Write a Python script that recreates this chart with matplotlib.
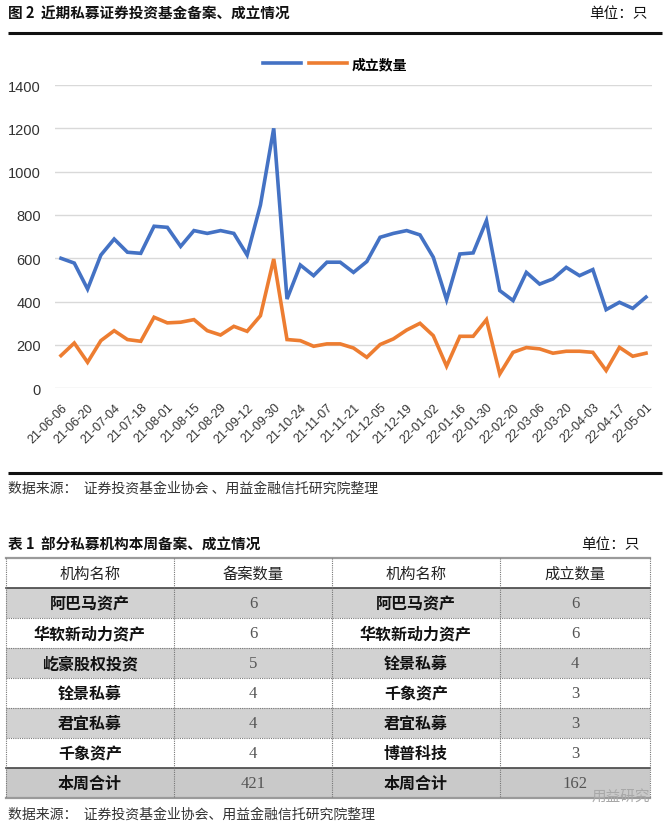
import matplotlib
matplotlib.use("Agg")
import matplotlib.pyplot as plt
from matplotlib.lines import Line2D
from matplotlib.patches import Rectangle

plt.rcParams['font.family'] = ['Noto Sans CJK SC', 'DejaVu Sans']

# weekly filings / establishments of private securities funds
tick_labels = ["21-06-06", "21-06-20", "21-07-04", "21-07-18", "21-08-01", "21-08-15",
               "21-08-29", "21-09-12", "21-09-30", "21-10-24", "21-11-07", "21-11-21",
               "21-12-05", "21-12-19", "22-01-02", "22-01-16", "22-01-30", "22-02-20",
               "22-03-06", "22-03-20", "22-04-03", "22-04-17", "22-05-01"]
filed = [600, 578, 458, 615, 689, 628, 623, 748, 743, 655, 728, 715, 728, 715, 615,
         846, 1200, 412, 569, 520, 582, 582, 535, 585, 697, 715, 728, 708, 605, 409,
         620, 625, 774, 451, 405, 535, 481, 505, 558, 520, 548, 363, 397, 369, 421]
established = [151, 209, 120, 220, 266, 225, 217, 328, 302, 305, 317, 266, 246, 286, 263,
               335, 597, 225, 220, 194, 205, 205, 186, 143, 202, 228, 269, 300, 243, 102,
               240, 240, 317, 66, 166, 188, 182, 162, 171, 171, 166, 82, 189, 148, 162]
y_ticks = [0, 200, 400, 600, 800, 1000, 1200, 1400]

# table 1
header = ["机构名称", "备案数量", "机构名称", "成立数量"]
names_filed = ["阿巴马资产", "华软新动力资产", "屹豪股权投资", "铨景私募", "君宜私募", "千象资产", "本周合计"]
counts_filed = [6, 6, 5, 4, 4, 4, 421]
names_est = ["阿巴马资产", "华软新动力资产", "铨景私募", "千象资产", "君宜私募", "博普科技", "本周合计"]
counts_est = [6, 6, 4, 3, 3, 3, 162]

W, H = 670, 828
fig = plt.figure(figsize=(W / 100, H / 100), dpi=100)

# overlay in pixel coordinates for titles, rules and the table
ov = fig.add_axes([0, 0, 1, 1])
ov.set_xlim(0, W)
ov.set_ylim(H, 0)
ov.axis('off')

ov.text(8, 14, "图 2  近期私募证券投资基金备案、成立情况", fontsize=10.5, weight='bold',
        va='center', color='#111')
ov.text(648, 14, "单位：只", fontsize=10.5, ha='right', va='center', color='#111')
ov.plot([8, 662], [34, 34], color='#111', lw=2.2, solid_capstyle='butt')
ov.plot([8, 662], [474, 474], color='#111', lw=2.2, solid_capstyle='butt')
ov.text(8, 489, "数据来源：  证券投资基金业协会 、用益金融信托研究院整理", fontsize=10,
        va='center', color='#333')

ov.text(8, 545, "表 1  部分私募机构本周备案、成立情况", fontsize=10.5, weight='bold',
        va='center', color='#111')
ov.text(640, 545, "单位：只", fontsize=10.5, ha='right', va='center', color='#111')

col_x = [6, 174, 332, 500, 650]
top = 559
rh = 30
nrows = len(names_filed)
for i in range(nrows):
    y0 = top + rh * (i + 1)
    if i % 2 == 0:
        fc = '#c9c9c9' if i == nrows - 1 else '#d2d2d2'
        ov.add_patch(Rectangle((col_x[0], y0), col_x[-1] - col_x[0], rh, fc=fc, ec='none'))

for j, h in enumerate(header):
    ov.text((col_x[j] + col_x[j + 1]) / 2, top + rh / 2, h, ha='center', va='center',
            fontsize=11, color='#222')

num_font = ['Liberation Serif', 'DejaVu Serif']
for i in range(nrows):
    yc = top + rh * (i + 1) + rh / 2
    row = [names_filed[i], counts_filed[i], names_est[i], counts_est[i]]
    for j, v in enumerate(row):
        xc = (col_x[j] + col_x[j + 1]) / 2
        if j % 2 == 0:
            ov.text(xc, yc, v, ha='center', va='center', fontsize=11.5, weight='bold', color='#111')
        else:
            ov.text(xc, yc, str(v), ha='center', va='center', fontsize=12, color='#555',
                    family=num_font)

bottom = top + rh * (nrows + 1)
for k in range(nrows + 2):
    y = top + rh * k
    if k == 0 or k == nrows + 1:
        ov.plot([col_x[0], col_x[-1]], [y, y], color='#9a9a9a', lw=1.6)
    elif k == 1 or k == nrows:
        ov.plot([col_x[0], col_x[-1]], [y, y], color='#444', lw=1.2)
    else:
        ov.plot([col_x[0], col_x[-1]], [y, y], color='#777', lw=0.8, ls=(0, (1, 1)))
for x in col_x:
    ov.plot([x, x], [top, bottom], color='#777', lw=0.8, ls=(0, (1, 1)))

ov.text(8, 815, "数据来源：  证券投资基金业协会、用益金融信托研究院整理", fontsize=10,
        va='center', color='#333')
ov.text(650, 797, "用益研究", fontsize=10.5, ha='right', va='center', color='#a8a8a8')

# line chart
ax = fig.add_axes([55 / W, 1 - 389.3 / H, 597 / W, (389.3 - 86) / H])
x = list(range(len(filed)))
blue = '#4472C4'
orange = '#ED7D31'
ax.plot(x, filed, color=blue, lw=2.6, solid_joinstyle='miter')
ax.plot(x, established, color=orange, lw=2.6, solid_joinstyle='miter')
ax.set_xlim(-0.45, len(filed) - 1 + 0.45)
ax.set_ylim(0, 1400)
ax.set_yticks(y_ticks)
ax.set_yticklabels([str(v) for v in y_ticks], fontsize=10.5, color='#333',
                   family=['Liberation Sans', 'DejaVu Sans'])
ax.set_xticks(list(range(0, len(filed), 2)))
ax.set_xticklabels(tick_labels, rotation=45, ha='right', rotation_mode='anchor',
                   fontsize=9, color='#333', family=['Liberation Sans', 'DejaVu Sans'])
ax.tick_params(axis='both', length=0)
ax.tick_params(axis='x', pad=9)
ax.tick_params(axis='y', pad=10)
ax.grid(axis='y', color='#d9d9d9', lw=1)
ax.set_axisbelow(True)
for s in ax.spines.values():
    s.set_visible(False)

handles = [Line2D([], [], color=blue, lw=2.6), Line2D([], [], color=orange, lw=2.6)]
fig.legend(handles, [" ", "成立数量"], loc='center', bbox_to_anchor=(335 / W, 1 - 65 / H),
           ncol=2, frameon=False, handlelength=2.75, handletextpad=0.35, columnspacing=0.0,
           prop={'size': 10, 'weight': 'bold'})

fig.savefig("out.png", dpi=100)
